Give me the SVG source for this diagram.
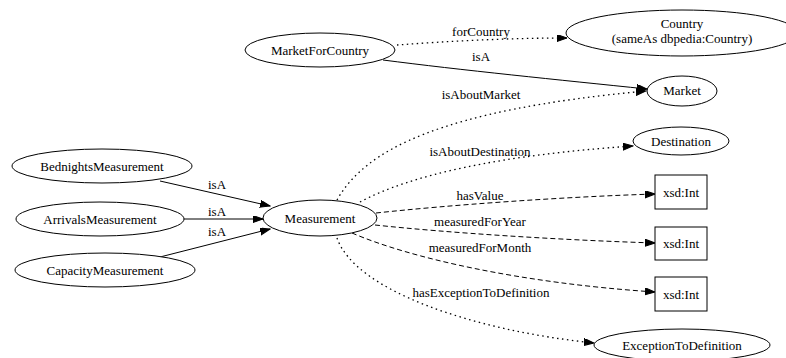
<svg xmlns="http://www.w3.org/2000/svg" width="786" height="358" viewBox="0 0 786 358">
<style>
text{font-family:"Liberation Serif","Times New Roman",serif;font-size:13px;fill:#000;text-anchor:middle}
.n{fill:#fff;stroke:#000;stroke-width:1}
.e{fill:none;stroke:#000;stroke-width:1;marker-end:url(#ah)}
.dot{stroke-dasharray:1.5,3.5;stroke-width:1.3}
.dash{stroke-dasharray:5,3}
</style>
<defs>
<marker id="ah" markerWidth="11" markerHeight="8" refX="10" refY="3.5" orient="auto" markerUnits="userSpaceOnUse">
<path d="M0,0 L10,3.5 L0,7 z" fill="#000" stroke="#000" stroke-width="1" stroke-dasharray="none"/>
</marker>
</defs>
<rect width="786" height="358" fill="#fff"/>
<g id="connectors">
<g id="e-forCountry"><path class="e dot" d="M397,45 C450,41 510,38 567,38"/><text x="481" y="36">forCountry</text></g>
<g id="e-isA-market"><path class="e" d="M383,60 C460,70 560,80 647,89"/><text x="481" y="61">isA</text></g>
<g id="e-isAboutMarket"><path class="e dot" d="M337,200 C365,150 440,110 646,91"/><text x="481" y="99">isAboutMarket</text></g>
<g id="e-isAboutDestination"><path class="e dot" d="M360,202 C410,175 500,155 633,146"/><text x="480" y="156">isAboutDestination</text></g>
<g id="e-hasValue"><path class="e dash" d="M376,213 C450,205 560,197 655,194"/><text x="480" y="200">hasValue</text></g>
<g id="e-measuredForYear"><path class="e dash" d="M375,225 C450,233 560,240 655,243"/><text x="480" y="226">measuredForYear</text></g>
<g id="e-measuredForMonth"><path class="e dash" d="M352,233 C410,258 520,283 655,292"/><text x="480" y="252">measuredForMonth</text></g>
<g id="e-hasException"><path class="e dot" d="M337,238 C355,290 470,330 594,343"/><text x="481" y="297">hasExceptionToDefinition</text></g>
<g id="e-isA-bednights"><path class="e" d="M160,181 L270,206"/><text x="217" y="189">isA</text></g>
<g id="e-isA-arrivals"><path class="e" d="M184,219 L263,219"/><text x="217" y="216">isA</text></g>
<g id="e-isA-capacity"><path class="e" d="M160,257 L270,229"/><text x="217" y="236">isA</text></g>
</g>
<g id="MarketForCountry"><ellipse class="n" cx="320" cy="50" rx="75" ry="17"/><text x="320" y="54.5">MarketForCountry</text></g>
<g id="Country"><ellipse class="n" cx="682" cy="33" rx="116" ry="23"/><text x="682" y="28">Country</text><text x="682" y="43">(sameAs dbpedia:Country)</text></g>
<g id="Market"><ellipse class="n" cx="682" cy="91" rx="35" ry="15"/><text x="682" y="95">Market</text></g>
<g id="Destination"><ellipse class="n" cx="681" cy="141" rx="48" ry="14"/><text x="681" y="145.5">Destination</text></g>
<g id="IntValue"><rect class="n" x="655" y="175" width="52" height="34"/><text x="681" y="196.5">xsd:Int</text></g>
<g id="IntYear"><rect class="n" x="655" y="227" width="52" height="33"/><text x="681" y="248">xsd:Int</text></g>
<g id="IntMonth"><rect class="n" x="655" y="277" width="52" height="34"/><text x="681" y="298.5">xsd:Int</text></g>
<g id="ExceptionToDefinition"><ellipse class="n" cx="682" cy="345" rx="88" ry="16"/><text x="682" y="349.5">ExceptionToDefinition</text></g>
<g id="Measurement"><ellipse class="n" cx="320" cy="218" rx="57" ry="18"/><text x="320" y="222.5">Measurement</text></g>
<g id="BednightsMeasurement"><ellipse class="n" cx="102" cy="166" rx="90" ry="17"/><text x="102" y="170.5">BednightsMeasurement</text></g>
<g id="ArrivalsMeasurement"><ellipse class="n" cx="100" cy="219" rx="84" ry="17"/><text x="100" y="223.5">ArrivalsMeasurement</text></g>
<g id="CapacityMeasurement"><ellipse class="n" cx="105" cy="270" rx="90" ry="17"/><text x="105" y="274.5">CapacityMeasurement</text></g>
</svg>
